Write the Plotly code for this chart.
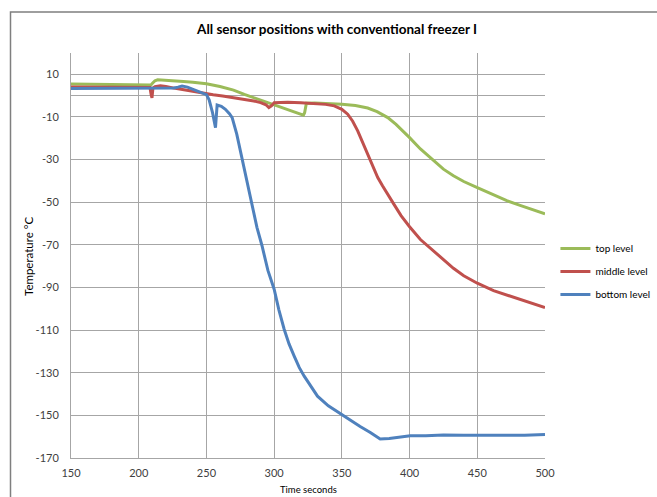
import plotly.graph_objects as go

# ---------------- data ----------------
top_t = [150, 170, 190, 205, 209, 210.5, 212, 214, 218, 225, 233, 240, 250, 260, 270, 278, 285, 292,
         300, 307, 314, 321.6, 322.5, 323.8, 330, 340, 350, 360, 369.1, 376, 383.9, 390, 393.7, 400,
         408, 417.6, 425, 432.4, 440, 449.6, 460, 471.8, 481.6, 490, 500]
top_T = [5.5, 5.4, 5.3, 5.2, 5.0, 6.0, 7.0, 7.4, 7.3, 7.0, 6.6, 6.3, 5.6, 4.3, 2.6, 0.6, -1.0, -2.6,
         -4.3, -6.0, -7.6, -9.2, -8.0, -3.6, -3.4, -3.6, -4.0, -4.6, -5.8, -7.5, -10.3, -13.5, -15.7, -19.7,
         -25.0, -30.6, -34.5, -37.6, -40.3, -43.0, -46.0, -49.3, -51.5, -53.2, -55.5]

mid_t = [150, 170, 190, 205, 208.3, 209.2, 209.8, 210.5, 212, 216, 220, 228, 235, 245.6, 255, 262, 270.2,
         278, 285, 290, 294, 296.1, 298, 300, 310, 319.8, 330, 338, 344.4, 350, 354.3, 358, 361.7, 365.5,
         369.1, 372.8, 376.5, 380, 383.9, 388.5, 393.7, 400, 408, 417.6, 425, 432.4, 440, 450, 462, 474.2,
         487, 500]
mid_T = [4.0, 4.0, 4.0, 4.0, 3.8, 0.5, -1.0, 3.5, 4.2, 4.6, 4.3, 3.3, 2.5, 1.4, 0.4, -0.2, -1.0,
         -1.6, -2.5, -3.3, -4.3, -5.6, -4.8, -3.3, -3.1, -3.3, -3.7, -4.1, -4.8, -6.4, -8.7, -12.0, -16.5, -22.0,
         -27.4, -33.0, -38.4, -42.3, -46.1, -51.0, -56.3, -61.5, -67.5, -72.7, -77.0, -81.0, -84.5, -88.0, -91.5, -94.0,
         -96.8, -99.4]

bot_t = [150, 170, 190, 210, 220, 226, 229, 232, 236, 240, 245, 250, 252, 254.5, 256.7, 257.9, 261, 264,
         267, 269, 272.4, 276.2, 279.9, 283.6, 287.3, 291, 295.4, 300, 303.5, 307.4, 311, 314.8, 318.5, 322.2,
         327, 332, 340, 350, 357, 363.5, 371, 378.3, 385, 392, 400.5, 412, 425, 440, 455, 470, 485, 500]
bot_T = [3.3, 3.3, 3.3, 3.3, 3.4, 3.6, 4.0, 4.5, 4.0, 3.0, 1.6, 0.5, -2.0, -8.0, -15.0, -4.4, -5.0, -6.4,
         -8.5, -10.3, -18.1, -29.0, -40.0, -50.5, -61.8, -70.3, -82.0, -90.8, -100.5, -109.6, -116.5, -122.2, -127.5, -131.6,
         -136.5, -141.0, -145.5, -149.7, -152.5, -155.2, -158.0, -161.1, -160.8, -160.2, -159.6, -159.6, -159.2, -159.3, -159.4, -159.4, -159.3, -159.0]

series_names = ["top level", "middle level", "bottom level"]
series_colors = ["#9BBB59", "#C0504D", "#4F81BD"]
y_ticks = [10, -10, -30, -50, -70, -90, -110, -130, -150, -170]
y_ticklabels = ["10", "-10", "-30", "-50", "-70", "-90", "-110", "-130", "-150", "-170"]
x_ticks = [150, 200, 250, 300, 350, 400, 450, 500]

title_text = "All sensor positions with conventional freezer I"
x_title = "Time seconds"
y_title = "Temperature °C"

FONT = "Lato"
GRID = "#A6A6A6"

fig = go.Figure()
for i, (xs, ys) in enumerate([(top_t, top_T), (mid_t, mid_T), (bot_t, bot_T)]):
    fig.add_trace(go.Scatter(
        x=xs, y=ys, mode="lines", name=series_names[i],
        legendgroup=series_names[i],
        line=dict(color=series_colors[i], width=3),
    ))

fig.update_layout(
    width=657, height=497,
    margin=dict(l=71, r=112, t=53, b=39, autoexpand=False),
    paper_bgcolor="white", plot_bgcolor="white",
    font=dict(family=FONT, size=11, color="#404040"),
    title=dict(text=title_text, x=0.513, xanchor="center", y=1 - 29 / 497, yanchor="middle",
               yref="container",
               font=dict(family=FONT, size=13.5, color="#000000", weight="bold")),
    showlegend=True,
    legend=dict(x=1.022, y=0.553, xanchor="left", yanchor="top",
                font=dict(family=FONT, size=10, color="#000000"),
                tracegroupgap=4, bgcolor="rgba(0,0,0,0)", itemwidth=30),
    xaxis=dict(range=[150, 500], tickvals=x_ticks, showgrid=True, gridcolor=GRID, gridwidth=1,
               showline=True, linecolor=GRID, linewidth=1, zeroline=False,
               ticks="", ticklabelstandoff=5, tickfont=dict(size=11, color="#404040")),
    yaxis=dict(range=[-170, 20], tickvals=y_ticks, ticktext=y_ticklabels,
               showgrid=True, gridcolor=GRID, gridwidth=1,
               showline=True, linecolor=GRID, linewidth=1,
               zeroline=True, zerolinecolor=GRID, zerolinewidth=1,
               ticks="", ticklabelstandoff=9, tickfont=dict(size=11, color="#404040")),
    annotations=[
        dict(text=x_title, xref="paper", yref="paper", x=0.5, y=(458 - 489) / 405,
             xanchor="center", yanchor="middle", showarrow=False,
             font=dict(family=FONT, size=9.5, color="#000000")),
        dict(text=y_title, xref="paper", yref="paper", x=(28 - 71) / 474, y=(458 - 257) / 405,
             xanchor="center", yanchor="middle", showarrow=False, textangle=-90,
             font=dict(family=FONT, size=11.5, color="#000000")),
    ],
    shapes=[
        dict(type="rect", xref="paper", yref="paper",
             x0=(10.5 - 71) / 474, x1=1.6, y0=-0.5, y1=(458 - 12) / 405,
             line=dict(color="#7F7F7F", width=1.5), fillcolor="rgba(0,0,0,0)", layer="below"),
    ],
)

fig.write_html("out.html", config={"displayModeBar": False},
               post_script="document.body.style.margin='0';")
